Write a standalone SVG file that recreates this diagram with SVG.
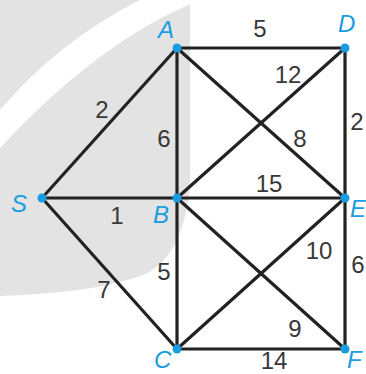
<svg xmlns="http://www.w3.org/2000/svg" width="366" height="374" viewBox="0 0 366 374">
<style>
.e{stroke:#222222;stroke-width:3.2;stroke-linecap:round;fill:none}
.n{fill:#1a9de0}
.l{font-family:"Liberation Sans",Arial,sans-serif;font-style:italic;font-size:24px;fill:#1a9de0}
.w{font-family:"Liberation Sans",Arial,sans-serif;font-size:24px;fill:#383838;text-anchor:middle}
</style>
<rect width="366" height="374" fill="#ffffff"/>
<path d="M0,0 H190 V185 C185,240 165,268 140,276 C100,290 50,294 0,296 Z" fill="#e3e3e3"/>
<path d="M0,110 Q60,40 140,0 L200,0 Q100,40 0,148 Z" fill="#ffffff"/>
<g id="connectors">
<line class="e" x1="42" y1="198" x2="177" y2="48"/>
<line class="e" x1="42" y1="198" x2="177" y2="198"/>
<line class="e" x1="42" y1="198" x2="177" y2="349"/>
<line class="e" x1="177" y1="48" x2="345" y2="48"/>
<line class="e" x1="177" y1="48" x2="177" y2="198"/>
<line class="e" x1="177" y1="48" x2="345" y2="198"/>
<line class="e" x1="177" y1="198" x2="345" y2="48"/>
<line class="e" x1="345" y1="48" x2="345" y2="198"/>
<line class="e" x1="177" y1="198" x2="345" y2="198"/>
<line class="e" x1="177" y1="198" x2="177" y2="349"/>
<line class="e" x1="177" y1="198" x2="345" y2="349"/>
<line class="e" x1="177" y1="349" x2="345" y2="198"/>
<line class="e" x1="177" y1="349" x2="345" y2="349"/>
<line class="e" x1="345" y1="198" x2="345" y2="349"/>
<text class="w" x="260" y="37">5</text>
<text class="w" x="288" y="83">12</text>
<text class="w" x="357" y="130">2</text>
<text class="w" x="300" y="147">8</text>
<text class="w" x="102" y="118">2</text>
<text class="w" x="164" y="147">6</text>
<text class="w" x="269" y="192">15</text>
<text class="w" x="117" y="224">1</text>
<text class="w" x="164" y="280">5</text>
<text class="w" x="104" y="298">7</text>
<text class="w" x="319" y="259">10</text>
<text class="w" x="358" y="273">6</text>
<text class="w" x="295" y="337">9</text>
<text class="w" x="274" y="369">14</text>
</g>
<g id="A"><circle class="n" cx="177" cy="48" r="4.5"/><text class="l" x="158" y="38">A</text></g>
<g id="D"><circle class="n" cx="345" cy="48" r="4.5"/><text class="l" x="338" y="32">D</text></g>
<g id="S"><circle class="n" cx="42" cy="198" r="4.5"/><text class="l" x="11" y="212">S</text></g>
<g id="B"><circle class="n" cx="177" cy="198" r="4.5"/><text class="l" x="153" y="223">B</text></g>
<g id="E"><circle class="n" cx="345" cy="198" r="4.5"/><text class="l" x="350" y="217">E</text></g>
<g id="C"><circle class="n" cx="177" cy="349" r="4.5"/><text class="l" x="154" y="368">C</text></g>
<g id="F"><circle class="n" cx="345" cy="349" r="4.5"/><text class="l" x="347" y="368">F</text></g>
</svg>
